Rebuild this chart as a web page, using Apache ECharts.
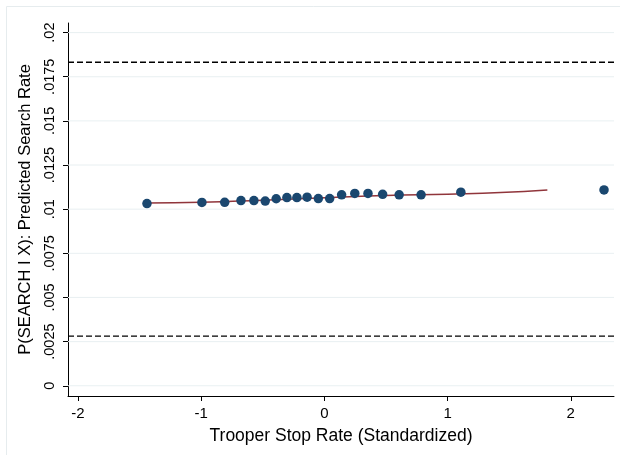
<!DOCTYPE html>
<html>
<head>
<meta charset="utf-8">
<script src="https://cdn.jsdelivr.net/npm/echarts@6/dist/echarts.min.js"></script>
<style>
  html, body { margin: 0; padding: 0; background: #ffffff; }
  #chart { width: 620px; height: 455px; }
</style>
</head>
<body>
<div id="chart"></div>
<script>
// Binned trooper stop rates (standardized) and mean predicted search rate
const binX = [-1.44, -0.994, -0.809, -0.677, -0.572, -0.480, -0.391, -0.304, -0.223, -0.140,
              -0.049, 0.043, 0.140, 0.247, 0.354, 0.473, 0.607, 0.785, 1.108, 2.270];
const binY = [0.01032, 0.01038, 0.01039, 0.01049, 0.01049, 0.01046, 0.01059, 0.01066, 0.01066, 0.01068,
              0.01060, 0.01060, 0.01081, 0.01089, 0.01089, 0.01084, 0.01081, 0.01081, 0.01096, 0.01109];

// Smoothed fit through the underlying observations
const fitX = [-1.44, -1.0, -0.5, 0.0, 0.5, 1.0, 1.43, 1.81];
const fitY = [0.01035, 0.01039, 0.01051, 0.01064, 0.01077, 0.01085, 0.01094, 0.01109];

// Reference bands (dashed)
const refLines = [0.01832, 0.00281];

// Axis ranges and ticks
const xRange = [-2.081, 2.351];
const yRange = [-0.00058, 0.020543];
const xTicks = [-2, -1, 0, 1, 2];
const xTickLabels = ['-2', '-1', '0', '1', '2'];
const yTicks = [0, 0.0025, 0.005, 0.0075, 0.01, 0.0125, 0.015, 0.0175, 0.02];
const yTickLabels = ['0', '.0025', '.005', '.0075', '.01', '.0125', '.015', '.0175', '.02'];

const FONT = '"Liberation Sans", Arial, Helvetica, sans-serif';
const GRID_COLOR = '#e9f0f2';

const chart = echarts.init(document.getElementById('chart'), null, { renderer: 'canvas' });

const labelFor = (vals, labels) => (v) => {
  for (let i = 0; i < vals.length; i++) {
    if (Math.abs(vals[i] - v) < 1e-9) return labels[i];
  }
  return '';
};

// A horizontal rule spanning the full x range at a given y
const hRule = (y, style, z) => ({
  type: 'line',
  data: [[xRange[0], y], [xRange[1], y]],
  showSymbol: false,
  silent: true,
  lineStyle: style,
  z: z
});

chart.setOption({
  backgroundColor: '#ffffff',
  animation: false,
  graphic: [{
    type: 'rect',
    shape: { x: 6.5, y: 6.5, width: 640, height: 470 },
    style: { fill: 'none', stroke: '#e6ecee', lineWidth: 1 },
    silent: true,
    z: -10
  }],
  grid: { left: 68, right: 6, top: 23, bottom: 59, containLabel: false },
  xAxis: {
    type: 'value',
    min: xRange[0],
    max: xRange[1],
    name: 'Trooper Stop Rate (Standardized)',
    nameLocation: 'middle',
    nameGap: 31,
    nameTextStyle: { color: '#000', fontSize: 17.5, fontFamily: FONT },
    axisLine: { show: true, onZero: false, lineStyle: { color: '#000', width: 1 } },
    axisTick: { show: true, length: 5, customValues: xTicks, lineStyle: { color: '#000' } },
    axisLabel: {
      customValues: xTicks,
      formatter: labelFor(xTicks, xTickLabels),
      color: '#000', fontSize: 15, fontFamily: FONT, margin: 10
    },
    splitLine: { show: false }
  },
  yAxis: {
    type: 'value',
    min: yRange[0],
    max: yRange[1],
    name: 'P(SEARCH I X): Predicted Search Rate',
    nameLocation: 'middle',
    nameGap: 26,
    nameRotate: 90,
    nameTextStyle: { color: '#000', fontSize: 16.5, fontFamily: FONT },
    axisLine: { show: true, onZero: false, lineStyle: { color: '#000', width: 1 } },
    axisTick: { show: true, length: 5, customValues: yTicks, lineStyle: { color: '#000' } },
    axisLabel: {
      customValues: yTicks,
      formatter: labelFor(yTicks, yTickLabels),
      rotate: 90,
      color: '#000', fontSize: 14.5, fontFamily: FONT, margin: 11
    },
    splitLine: { show: false }
  },
  series: [].concat(
    yTicks.map(v => hRule(v, { color: GRID_COLOR, width: 1 }, 0)),
    refLines.map(v => hRule(v, { color: '#000', width: 1.3, type: [6, 3] }, 3)),
    [
      {
        type: 'line',
        data: fitX.map((x, i) => [x, fitY[i]]),
        smooth: true,
        showSymbol: false,
        lineStyle: { color: '#90353b', width: 1.5 },
        z: 4
      },
      {
        type: 'scatter',
        data: binX.map((x, i) => [x, binY[i]]),
        symbolSize: 9.5,
        itemStyle: { color: '#1a476f', opacity: 1 },
        z: 5
      }
    ]
  )
});
</script>
</body>
</html>
